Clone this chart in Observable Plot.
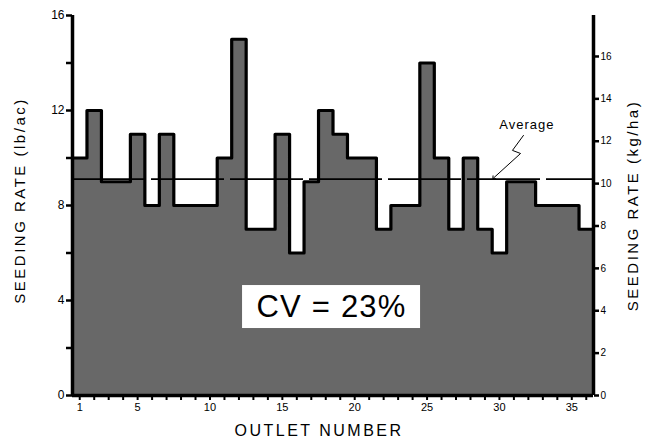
<!DOCTYPE html>
<html><head><meta charset="utf-8">
<script src="https://cdn.jsdelivr.net/npm/d3@7"></script>
<script src="https://cdn.jsdelivr.net/npm/@observablehq/plot@0.6"></script>
<style>body{margin:0;background:#fff;}</style>
</head><body><div id="chart"></div>
<script>
// ---- data ----
const outlets = [1,2,3,4,5,6,7,8,9,10,11,12,13,14,15,16,17,18,19,20,21,22,23,24,25,26,27,28,29,30,31,32,33,34,35,36];
const rates   = [10,12,9,9,11,8,11,8,8,8,10,15,7,7,11,6,9,12,11,10,10,7,8,8,14,10,7,10,7,6,9,9,8,8,8,7];
const leftTicks  = [0,2,4,6,8,10,12,14,16];
const leftLabels = [0,4,8,12,16];
const rightTicks = [0,2,4,6,8,10,12,14,16];   // kg/ha
const xLabels = [1,5,10,15,20,25,30,35];
const KG_PER_LB = 1.12085;
const cvText = "CV = 23%";
const avgText = "Average";

// ---- derived tables ----
const data = outlets.map((o,i) => ({o, v: rates[i]}));
const steps = data.flatMap(d => [{x: d.o - 0.5, y: d.v}, {x: d.o + 0.5, y: d.v}]);
const avg = d3.mean(rates);
const arrowPts = [{x:31.66,y:10.95},{x:30.90,y:10.32},{x:31.46,y:10.19},{x:29.6,y:avg+0.05}];

const font = "Liberation Sans, Arial, Helvetica, sans-serif";

const chart = Plot.plot({
  width: 652, height: 445,
  marginLeft: 72, marginRight: 59, marginTop: 15, marginBottom: 50,
  x: {domain: [0.5, 36.5]},
  y: {domain: [0, 16]},
  style: {fontFamily: font, background: "white", color: "black"},
  marks: [
    Plot.areaY(steps, {x: "x", y1: 0, y2: "y", fill: "#686868"}),
    Plot.ruleY([avg], {stroke: "black", strokeWidth: 1.6, strokeDasharray: "73,6"}),
    Plot.line(steps, {x: "x", y: "y", stroke: "black", strokeWidth: 3.2, strokeLinejoin: "round"}),
    Plot.ruleX([0.5], {y1: 0, y2: 16, stroke: "black", strokeWidth: 3.5}),
    Plot.ruleX([36.5], {y1: 0, y2: 16, stroke: "black", strokeWidth: 3.5}),
    Plot.ruleY([0], {stroke: "black", strokeWidth: 3.5}),
    Plot.axisY({ticks: leftTicks, tickSize: 6, strokeWidth: 2.5, tickPadding: 2,
      tickFormat: d => leftLabels.includes(d) ? d : "", fontSize: 12, label: null}),
    Plot.axisY({anchor: "right", ticks: rightTicks.map(k => k / KG_PER_LB), tickSize: 5, strokeWidth: 2.5, tickPadding: 2,
      tickFormat: d => Math.round(d * KG_PER_LB), fontSize: 10, label: null}),
    Plot.axisX({ticks: outlets, tickSize: 5, strokeWidth: 2, tickPadding: 3,
      tickFormat: d => xLabels.includes(d) ? d : "", fontSize: 11, label: null}),
    Plot.text(["SEEDING RATE (lb/ac)"], {frameAnchor: "left", textAnchor: "middle", dx: -52, dy: -5, rotate: -90, fontSize: 15}),
    Plot.text(["SEEDING RATE (kg/ha)"], {frameAnchor: "right", textAnchor: "middle", dx: 40, dy: 0, rotate: -90, fontSize: 15}),
    Plot.text(["OUTLET NUMBER"], {frameAnchor: "bottom", dx: -14, dy: 40, fontSize: 16}),
    Plot.rect([0], {x1: 12.25, x2: 24.55, y1: 2.82, y2: 4.63, fill: "white"}),
    Plot.text([cvText], {x: 18.4, y: 3.72, fontSize: 31}),
    Plot.text([avgText], {x: 31.9, y: 11.4, fontSize: 13}),
    Plot.line(arrowPts, {x: "x", y: "y", stroke: "black", strokeWidth: 1, markerEnd: "arrow"})
  ]
});
document.getElementById("chart").appendChild(chart);
d3.select(chart).selectAll("text").each(function() {
  const t = this.textContent;
  if (t.startsWith("SEEDING")) d3.select(this).attr("letter-spacing", 2.5);
  if (t === "OUTLET NUMBER") d3.select(this).attr("letter-spacing", 2.5);
  if (t === avgText) d3.select(this).attr("letter-spacing", 1);
  if (t === cvText) d3.select(this).attr("letter-spacing", 1.2);
});
</script>
</body></html>
